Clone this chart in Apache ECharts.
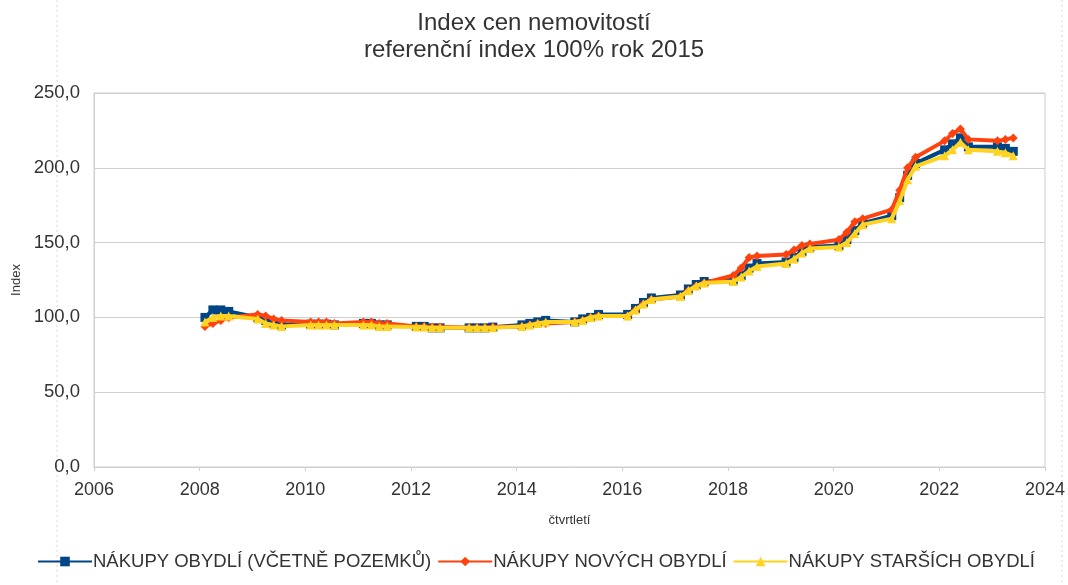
<!DOCTYPE html>
<html>
<head>
<meta charset="utf-8">
<script src="https://cdn.jsdelivr.net/npm/echarts@6/dist/echarts.min.js"></script>
<style>
  html, body { margin: 0; padding: 0; background: #fff; }
  #main { width: 1068px; height: 585px; }
</style>
</head>
<body>
<div id="main"></div>
<script>
// pozice ctvrtleti na ose x (v puvodnim grafu jsou ctvrtleti nahusto u zacatku roku)
var quarters = [
  2008.1, 2008.25, 2008.4, 2008.55,
  2009.1, 2009.25, 2009.4, 2009.55,
  2010.1, 2010.25, 2010.4, 2010.55,
  2011.1, 2011.25, 2011.4, 2011.55,
  2012.1, 2012.25, 2012.4, 2012.55,
  2013.1, 2013.25, 2013.4, 2013.55,
  2014.1, 2014.25, 2014.4, 2014.55,
  2015.1, 2015.25, 2015.4, 2015.55,
  2016.1, 2016.25, 2016.4, 2016.55,
  2017.1, 2017.25, 2017.4, 2017.55,
  2018.1, 2018.25, 2018.4, 2018.55,
  2019.1, 2019.25, 2019.4, 2019.55,
  2020.1, 2020.25, 2020.4, 2020.55,
  2021.1, 2021.25, 2021.4, 2021.55,
  2022.1, 2022.25, 2022.4, 2022.55,
  2023.1, 2023.25, 2023.4
];

var seriesNames = ['NÁKUPY OBYDLÍ (VČETNĚ POZEMKŮ)', 'NÁKUPY NOVÝCH OBYDLÍ', 'NÁKUPY STARŠÍCH OBYDLÍ'];

var obydliCelkem = [
  100, 105, 105, 104,
  100, 98, 96, 95,
  95.5, 95.5, 95.5, 95,
  96, 96, 95, 95,
  94, 94, 93, 93,
  93, 93, 93, 93.5,
  95, 96, 97, 98,
  97, 99, 100, 102,
  102, 106, 110, 113,
  115, 119, 122, 124,
  125, 128, 133, 136,
  137, 140, 144, 147,
  148, 152, 158, 163,
  168, 180, 195, 203,
  212, 216, 220, 214,
  214, 213, 211
];

var noveObydli = [
  94, 96, 98, 100,
  102, 101, 99, 98,
  97, 97, 97, 96,
  97, 97, 96, 96,
  94, 94, 93.5, 93.5,
  93, 93, 93, 93.5,
  94, 95, 96, 96,
  97, 98, 100, 101,
  101, 105, 109, 112,
  114, 118, 121, 123,
  128, 133, 140, 141,
  142, 145, 148, 149,
  152, 157, 164, 166,
  172, 185, 200, 207,
  218, 223, 226, 219,
  218, 219, 220
];

var starsiObydli = [
  97, 100, 101, 101,
  99, 96, 95, 94,
  95, 95, 95, 95,
  95, 95, 94, 94,
  93.5, 93.5, 93, 93,
  93, 93, 93, 93,
  94, 95, 96, 97,
  97, 98, 100, 101,
  101, 105, 109, 112,
  114, 118, 121, 123,
  124, 127, 131, 134,
  136, 139, 143, 146,
  147, 150, 156, 162,
  166, 178, 192, 201,
  208, 212, 217, 212,
  211, 210, 208
];

var yTicks = { min: 0, max: 250, interval: 50 };
var xTicks = { min: 2006, max: 2024, interval: 2 };

// LibreOffice barvy
var colors = ['#004586', '#ff420e', '#ffd320'];
var symbols = ['rect', 'diamond', 'triangle'];
var allData = [obydliCelkem, noveObydli, starsiObydli];

function pairs(values) {
  return values.map(function (v, i) { return [quarters[i], v]; });
}

var series = allData.map(function (values, i) {
  return {
    name: seriesNames[i],
    type: 'line',
    data: pairs(values),
    symbol: symbols[i],
    symbolSize: 9,
    showAllSymbol: true,
    lineStyle: { width: 4, color: colors[i] },
    itemStyle: { color: colors[i] },
    z: 2 + i
  };
});

var chart = echarts.init(document.getElementById('main'), null, { renderer: 'canvas' });

var font = 'Liberation Sans, Arial, sans-serif';

var option = {
  animation: false,
  backgroundColor: '#fff',
  textStyle: { fontFamily: font },
  title: {
    text: 'Index cen nemovitostí\nreferenční index 100% rok 2015',
    left: 'center',
    top: 5,
    textStyle: {
      color: '#333',
      fontSize: 24,
      fontWeight: 'normal',
      lineHeight: 27,
      fontFamily: font
    }
  },
  legend: {
    bottom: 9,
    left: 32,
    itemWidth: 54,
    itemHeight: 12,
    itemGap: 6,
    data: seriesNames,
    textStyle: { color: '#333', fontSize: 18.5, padding: [0, 0, 0, -4] }
  },
  grid: {
    left: 94,
    right: 20,
    top: 93,
    bottom: 118,
    show: true,
    borderColor: '#cfcfcf',
    borderWidth: 1
  },
  xAxis: {
    type: 'value',
    min: xTicks.min,
    max: xTicks.max,
    interval: xTicks.interval,
    name: 'čtvrtletí',
    nameLocation: 'middle',
    nameGap: 47,
    nameTextStyle: { color: '#333', fontSize: 13 },
    axisLine: { show: true, lineStyle: { color: '#cfcfcf' } },
    axisTick: { show: true, length: 4, inside: false, lineStyle: { color: '#cfcfcf' } },
    axisLabel: {
      color: '#333',
      fontSize: 18,
      margin: 14,
      formatter: function (v) { return String(v); }
    },
    splitLine: { show: false }
  },
  yAxis: {
    type: 'value',
    min: yTicks.min,
    max: yTicks.max,
    interval: yTicks.interval,
    name: 'Index',
    nameLocation: 'middle',
    nameGap: 68,
    nameTextStyle: { color: '#333', fontSize: 13 },
    axisLine: { show: true, lineStyle: { color: '#cfcfcf' } },
    axisTick: { show: false },
    axisLabel: {
      color: '#333',
      fontSize: 18.5,
      margin: 14,
      formatter: function (v) { return v.toFixed(1).replace('.', ','); }
    },
    splitLine: { show: true, lineStyle: { color: '#cfcfcf' } }
  },
  // tečkované okraje oblasti grafu
  graphic: [
    { type: 'line', shape: { x1: 57, y1: 0, x2: 57, y2: 585 }, style: { stroke: '#d8d8d8', lineDash: [2, 3] } },
    { type: 'line', shape: { x1: 1062, y1: 0, x2: 1062, y2: 585 }, style: { stroke: '#d8d8d8', lineDash: [2, 3] } }
  ],
  series: series
};

chart.setOption(option);
</script>
</body>
</html>
